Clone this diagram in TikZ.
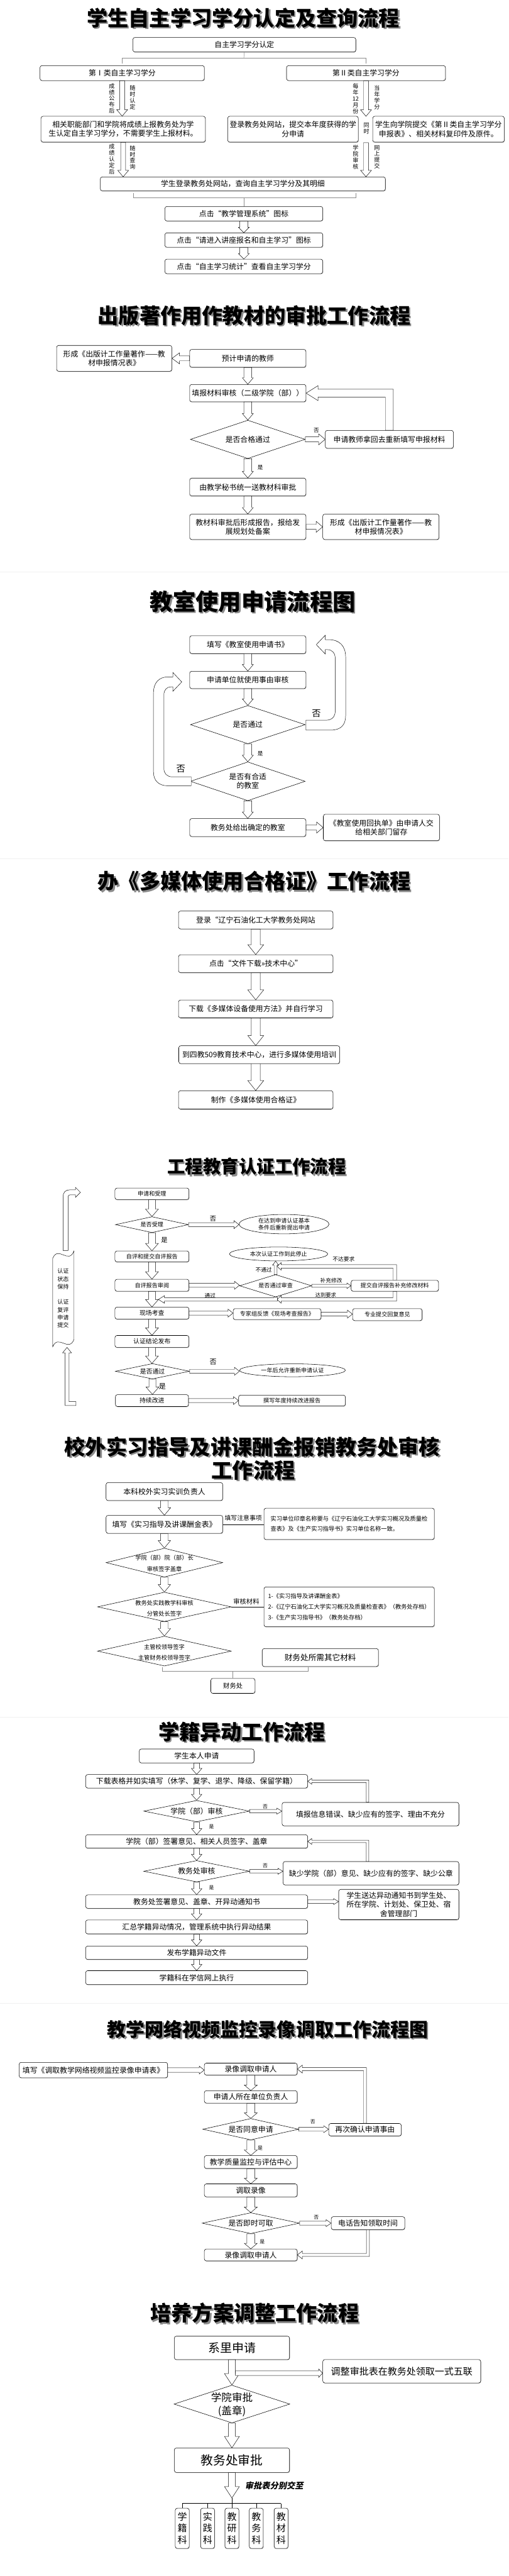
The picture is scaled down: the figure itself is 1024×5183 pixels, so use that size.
\documentclass[tikz,border=0pt]{standalone}
\usepackage{fontspec}
\setmainfont{Noto Sans CJK SC}
\newfontfamily\tfont{Noto Sans CJK SC}
\usetikzlibrary{shapes.geometric,shadows,calc}
\newcommand\ArrD[5]{\draw[blk] let \p1=#4, \p2=#5 in (\x1-#1pt,\y1) -- (\x1-#1pt,\y2+#3pt) -- (\x1-#2pt,\y2+#3pt) -- (\x1,\y2) -- (\x1+#2pt,\y2+#3pt) -- (\x1+#1pt,\y2+#3pt) -- (\x1+#1pt,\y1) -- cycle;}
\newcommand\ArrU[5]{\draw[blk] let \p1=#4, \p2=#5 in (\x1-#1pt,\y1) -- (\x1-#1pt,\y2-#3pt) -- (\x1-#2pt,\y2-#3pt) -- (\x1,\y2) -- (\x1+#2pt,\y2-#3pt) -- (\x1+#1pt,\y2-#3pt) -- (\x1+#1pt,\y1) -- cycle;}
\newcommand\ArrR[5]{\draw[blk] let \p1=#4, \p2=#5 in (\x1,\y1+#1pt) -- (\x2-#3pt,\y1+#1pt) -- (\x2-#3pt,\y1+#2pt) -- (\x2,\y1) -- (\x2-#3pt,\y1-#2pt) -- (\x2-#3pt,\y1-#1pt) -- (\x1,\y1-#1pt) -- cycle;}
\newcommand\ArrL[5]{\draw[blk] let \p1=#4, \p2=#5 in (\x1,\y1+#1pt) -- (\x2+#3pt,\y1+#1pt) -- (\x2+#3pt,\y1+#2pt) -- (\x2,\y1) -- (\x2+#3pt,\y1-#2pt) -- (\x2+#3pt,\y1-#1pt) -- (\x1,\y1-#1pt) -- cycle;}
\newcommand\ArrUL[5]{\draw[blk] let \p1=#4, \p2=#5 in (\x1-#1pt,\y1) -- (\x1-#1pt,\y2-#1pt) -- (\x2+#3pt,\y2-#1pt) -- (\x2+#3pt,\y2-#2pt) -- (\x2,\y2) -- (\x2+#3pt,\y2+#2pt) -- (\x2+#3pt,\y2+#1pt) -- (\x1+#1pt,\y2+#1pt) -- (\x1+#1pt,\y1) -- cycle;}
\newcommand\ArrDL[5]{\draw[blk] let \p1=#4, \p2=#5 in (\x1-#1pt,\y1) -- (\x1-#1pt,\y2+#1pt) -- (\x2+#3pt,\y2+#1pt) -- (\x2+#3pt,\y2+#2pt) -- (\x2,\y2) -- (\x2+#3pt,\y2-#2pt) -- (\x2+#3pt,\y2-#1pt) -- (\x1+#1pt,\y2-#1pt) -- (\x1+#1pt,\y1) -- cycle;}
\newcommand\Ttl[5]{\node[ttl={#4},text=black!45] (#1s) at (#2+3,#3+3) {#5};\node[ttl={#4}] (#1) at (#2,#3) {#5};}
\tikzset{
 bx/.style 2 args={draw, rounded corners=4pt, fill=white, line width=0.7pt, minimum width=#1pt, minimum height=#2pt, inner sep=1pt, align=center, font=\fontsize{15}{18}\selectfont, drop shadow={shadow xshift=0.8pt, shadow yshift=-1.2pt, opacity=0.45}},
 dia/.style 2 args={draw, diamond, fill=white, line width=0.7pt, minimum width=#1pt, minimum height=#2pt, inner sep=0pt},
 ell/.style 2 args={draw, ellipse, fill=white, line width=0.7pt, minimum width=#1pt, minimum height=#2pt, inner sep=0pt, align=center, font=\fontsize{11.5}{14}\selectfont},
 dt/.style={inner sep=0pt, align=center, font=\fontsize{15}{18}\selectfont},
 blk/.style={draw, fill=white, line width=0.6pt, line join=miter},
 gl/.style={draw=black!45, line width=0.6pt},
 lab/.style={inner sep=0pt, align=center, font=\fontsize{11}{12}\selectfont},
 vl/.style={inner sep=0pt, align=center, font=\fontsize{11.5}{12.5}\selectfont},
 ttl/.style={inner sep=0pt, font=\tfont\bfseries\fontsize{#1}{#1}\selectfont},
 sm/.style={font=\fontsize{11.5}{14}\selectfont},
 sep/.style={draw=black!6, line width=0.6pt}
}
\begin{document}
\begin{tikzpicture}[x=1pt,y=-1pt]
\fill[white] (0,0) rectangle (1024,5183);
\useasboundingbox (0,0) rectangle (1024,5183);
\draw[sep] (0,1151) -- (1024,1151);
\draw[sep] (0,1727) -- (1024,1727);
\draw[sep] (0,3455) -- (1024,3455);
\draw[sep] (0,4031) -- (1024,4031);

% ===== Section 1 =====
\Ttl{t1}{490}{36}{42}{学生自主学习学分认定及查询流程}
\node[bx={449}{29}] (A) at (492,90) {自主学习学分认定};
\node[bx={331}{30}] (B) at (246,147) {第Ⅰ类自主学习学分};
\node[bx={320}{30}] (C) at (737,147) {第Ⅱ类自主学习学分};
\draw[gl] (A.south) -- (491,117);
\draw[gl] (246,128) -- (246,117) -- (737,117) -- (737,128);
\node[bx={331}{52}] (D) at (248,260) {相关职能部门和学院将成绩上报教务处为学\\生认定自主学习学分，不需要学生上报材料。};
\node[bx={263}{52}] (E) at (590,260) {登录教务处网站，提交本年度获得的学\\分申请};
\node[bx={265}{52}] (F) at (883,260) {学生向学院提交《第Ⅱ类自主学习学分\\申报表》、相关材料复印件及原件。};
\coordinate (g1) at (737,234);
\coordinate (g2) at (737,287);
\node[bx={574}{28}] (G) at (489,370) {学生登录教务处网站，查询自主学习学分及其明细};
\ArrD{5}{11}{13}{(B.south)}{(D.north)}
\ArrD{5}{11}{13}{(C.south)}{(g1)}
\ArrD{5}{11}{13}{(D.south)}{(G.north)}
\ArrD{5}{11}{13}{(g2)}{(G.north)}
\node[vl] (l1a) at (225,198) {成\\绩\\公\\布\\后};
\node[vl] (l1b) at (267,196) {随\\时\\认\\定};
\node[vl] (l1c) at (716,199) {每\\年\\12\\月\\份};
\node[vl] (l1d) at (759,196) {当\\年\\学\\分};
\node[vl] (l1e) at (738,258) {同\\时};
\node[vl] (l1f) at (225,320) {成\\绩\\认\\定\\后};
\node[vl] (l1g) at (267,317) {随\\时\\查\\询};
\node[vl] (l1h) at (716,316) {学\\院\\审\\核};
\node[vl] (l1i) at (759,316) {网\\上\\提\\交};
\node[bx={318}{29}] (H) at (491,430) {点击“教学管理系统”图标};
\node[bx={318}{29}] (I) at (491,483) {点击“请进入讲座报名和自主学习”图标};
\node[bx={318}{29}] (J) at (491,536) {点击“自主学习统计”查看自主学习学分};
\draw[gl] (268,388) -- (268,398) -- (716,398) -- (716,388);
\draw[gl] (491,398) -- (H.north);
\ArrD{8}{11}{11}{(H.south)}{(I.north)}
\ArrD{8}{11}{11}{(I.south)}{(J.north)}

% ===== Section 2 =====
\Ttl{t2}{512}{635}{42}{出版著作用作教材的审批工作流程}
\node[bx={232}{52}] (P0) at (230,721) {形成《出版计工作量著作——教\\材申报情况表》};
\node[bx={234}{36}] (P1) at (499,721) {预计申请的教师};
\node[bx={234}{35}] (P2) at (499,791) {填报材料审核（二级学院（部））};
\node[dia={231}{77}] (P3) at (499,884) {};
\node[dt] (P3t) at (P3) {是否合格通过};
\node[bx={258}{36}] (P4) at (784,884) {申请教师拿回去重新填写申报材料};
\node[bx={234}{36}] (P5) at (499,980) {由教学秘书统一送教材科审批};
\node[bx={234}{51}] (P6) at (499,1060) {教材科审批后形成报告，报给发\\展规划处备案};
\node[bx={234}{51}] (P7) at (767,1060) {形成《出版计工作量著作——教\\材申报情况表》};
\ArrL{5}{11}{15}{(P1.west)}{(P0.east)}
\ArrD{8}{11}{13}{(P1.south)}{(P2.north)}
\ArrD{8}{11}{13}{(P2.south)}{(P3.north)}
\ArrR{5}{11}{13}{(P3.east)}{(P4.west)}
\ArrUL{8}{15}{24}{(P4.north)}{(P2.east)}
\ArrD{8}{11}{13}{(P3.south)}{(P5.north)}
\ArrD{8}{11}{13}{(P5.south)}{(P6.north)}
\ArrR{5}{11}{13}{(P6.east)}{(P7.west)}
\node[lab] (P3n) at (637,866) {否};
\node[lab] (P3y) at (524,941) {是};

% ===== Section 3 =====
\Ttl{t3}{509}{1210}{46}{教室使用申请流程图}
\node[bx={234}{36}] (Q1) at (499,1297) {填写《教室使用申请书》};
\node[bx={234}{35}] (Q2) at (499,1368) {申请单位就使用事由审核};
\node[dia={231}{77}] (Q3) at (499,1458) {};
\node[dt] (Q3t) at (Q3) {是否通过};
\node[dia={231}{78}] (Q4) at (499,1572) {};
\node[dt] (Q4t) at (Q4) {是否有合适\\的教室};
\node[bx={234}{36}] (Q5) at (499,1665) {教务处给出确定的教室};
\node[bx={234}{53}] (Q6) at (768,1665) {《教室使用回执单》由申请人交\\给相关部门留存};
\ArrD{8}{11}{13}{(Q1.south)}{(Q2.north)}
\ArrD{8}{11}{13}{(Q2.south)}{(Q3.north)}
\ArrD{8}{11}{13}{(Q3.south)}{(Q4.north)}
\ArrD{8}{11}{13}{(Q4.south)}{(Q5.north)}
\ArrR{5}{11}{13}{(Q5.east)}{(Q6.west)}
\draw[blk] (616,1449) -- (657,1449) .. controls (668,1449) and (675,1442) .. (675,1431) -- (675,1325) .. controls (675,1314) and (669,1307) .. (659,1307) -- (655,1307) -- (655,1316) -- (637,1297) -- (655,1278) -- (655,1287) -- (662,1287) .. controls (684,1287) and (696,1300) .. (696,1322) -- (696,1440) .. controls (696,1459) and (686,1469) .. (666,1469) -- (616,1469) -- cycle;
\draw[blk] (385,1563) -- (347,1563) .. controls (336,1563) and (330,1556) .. (330,1546) -- (330,1398) .. controls (330,1388) and (336,1382) .. (344,1382) -- (348,1382) -- (348,1391) -- (366,1372) -- (348,1353) -- (348,1362) -- (338,1362) .. controls (320,1362) and (309,1374) .. (309,1394) -- (309,1553) .. controls (309,1571) and (320,1581) .. (338,1581) -- (385,1581) -- cycle;
\node[lab,font=\fontsize{18}{18}\selectfont] (Q3n) at (637,1436) {否};
\node[lab,font=\fontsize{18}{18}\selectfont] (Q4n) at (364,1547) {否};
\node[lab] (Q3y) at (524,1517) {是};

% ===== Section 4 =====
\Ttl{t4}{512}{1773}{42}{办《多媒体使用合格证》工作流程}
\node[bx={311}{36}] (R1) at (515,1851) {登录“辽宁石油化工大学教务处网站};
\node[bx={311}{36}] (R2) at (515,1939) {点击“文件下载>>技术中心”};
\node[bx={311}{36}] (R3) at (515,2030) {下载《多媒体设备使用方法》并自行学习};
\node[bx={324}{36}] (R4) at (522,2122) {到四教509教育技术中心，进行多媒体使用培训};
\node[bx={311}{37}] (R5) at (515,2213) {制作《多媒体使用合格证》};
\ArrD{9}{16}{20}{(R1.south)}{(R2.north)}
\ArrD{9}{16}{20}{(R2.south)}{(R3.north)}
\ArrD{9}{16}{20}{(R3.south)}{(R4.north)}
\ArrD{9}{16}{20}{(R5.north |- R4.south)}{(R5.north)}

% ===== Section 5 =====
\Ttl{t5}{517}{2347}{36}{工程教育认证工作流程}
\node[bx={149}{23},sm] (S1) at (306,2402) {申请和受理};
\node[dia={147}{32}] (S2) at (306,2464) {};
\node[dt,sm] (S2t) at (S2) {是否受理};
\node[ell={181}{39}] (S3) at (572,2463) {在达到申请认证基本\\条件后重新提出申请};
\node[bx={149}{22},sm] (S4) at (306,2528) {自评和提交自评报告};
\node[bx={149}{24},sm] (S5) at (306,2586) {自评报告审阅};
\node[dia={145}{45}] (S6) at (555,2587) {};
\node[dt,sm] (S6t) at (S6) {是否通过审查};
\node[ell={198}{28}] (S7) at (561,2523) {本次认证工作到此停止};
\node[bx={176}{22},sm] (S8) at (795,2587) {提交自评报告补充修改材料};
\node[bx={149}{24},font=\fontsize{12.5}{14}\selectfont] (S9) at (306,2642) {现场考查};
\node[bx={177}{22},sm] (S10) at (558,2644) {专家组反馈《现场考查报告》};
\node[bx={140}{24},sm] (S11) at (780,2645) {专业提交回复意见};
\node[bx={149}{24},font=\fontsize{12.5}{14}\selectfont] (S12) at (306,2699) {认证结论发布};
\node[dia={149}{31}] (S13) at (307,2759) {};
\node[dt,font=\fontsize{12.5}{14}\selectfont] (S13t) at (S13) {是否通过};
\node[ell={213}{26}] (S14) at (589,2757) {一年后允许重新申请认证};
\node[bx={147}{24},font=\fontsize{12.5}{14}\selectfont] (S15) at (306,2818) {持续改进};
\node[bx={215}{22},sm] (S16) at (588,2818) {撰写年度持续改进报告};
\coordinate (c1) at (558,2548);
\coordinate (c2) at (558,2614.5);
\coordinate (c3) at (319,2614.5);
\ArrD{7}{13}{15}{(S1.south)}{(S2.north)}
\ArrD{7}{13}{15}{(S2.south)}{(S4.north)}
\ArrD{7}{13}{15}{(S4.south)}{(S5.north)}
\ArrD{7}{13}{15}{(S5.south)}{(S9.north)}
\ArrD{7}{13}{15}{(S9.south)}{(S12.north)}
\ArrD{7}{13}{15}{(S12.south)}{(S13.north)}
\ArrD{7}{13}{15}{(S13.south)}{(S15.north)}
\ArrR{4}{8}{10}{(S2.east)}{(S3.west)}
\ArrR{4}{8}{10}{(S5.east)}{(S6.west)}
\ArrR{4}{8}{10}{(S9.east)}{(S10.west)}
\ArrR{4}{8}{10}{(S10.east)}{(S11.west)}
\ArrR{4}{8}{10}{(S13.east)}{(S14.west)}
\ArrR{4}{8}{10}{(S15.east)}{(S16.west)}
\ArrR{3}{5.5}{8}{(S6.east)}{(S8.west)}
\ArrU{3}{6}{8}{(S6.north)}{(S7.south)}
\ArrUL{3.5}{7.5}{8}{(S8.north)}{(c1)}
\ArrDL{3.5}{7.5}{8}{(S8.south)}{(c2)}
\ArrDL{3.5}{7.5}{12}{(S6.south)}{(c3)}
\node[lab,font=\fontsize{13}{13}\selectfont] (S2n) at (429,2452) {否};
\node[lab,font=\fontsize{13}{13}\selectfont] (S2y) at (331,2495) {是};
\node[lab] (S6u) at (531,2555) {不通过};
\node[lab] (S6r) at (667,2577) {补充修改};
\node[lab] (S8u) at (692,2533) {不达要求};
\node[lab,font=\fontsize{10.5}{11}\selectfont] (S8d) at (656,2606) {达到要求};
\node[lab] (S6d) at (423,2607) {通过};
\node[lab,font=\fontsize{14}{14}\selectfont] (S13n) at (429,2740) {否};
\node[lab,font=\fontsize{14}{14}\selectfont] (S13y) at (327,2790) {是};
% left loop
\draw[blk] (153,2828) -- (131,2828) -- (131,2722) -- (126,2722) -- (135,2711) -- (144,2722) -- (139,2722) -- (139,2820) -- (153,2820) -- cycle;
\draw[blk] (127,2516) -- (127,2408) .. controls (127,2399) and (132,2394) .. (140,2394) -- (152,2394) -- (152,2389) -- (162,2399) -- (152,2409) -- (152,2404) -- (141,2404) .. controls (138,2404) and (137,2406) .. (137,2409) -- (137,2516) -- cycle;
\draw[blk] (106,2532) .. controls (117,2505) and (138,2545) .. (149,2517) -- (149,2695) .. controls (138,2722) and (117,2683) .. (106,2710) -- cycle;
\node[inner sep=0pt, align=center, font=\fontsize{11.5}{15.5}\selectfont] (ban) at (127,2612) {认证\\状态\\保持\\[15.5pt]认证\\复评\\申请\\提交};

% ===== Section 6 =====
\Ttl{t6a}{508}{2911}{42}{校外实习指导及讲课酬金报销教务处审核}
\Ttl{t6b}{510}{2958}{42}{工作流程}
\node[bx={235}{36}] (T1) at (331,3001) {本科校外实习实训负责人};
\node[bx={235}{36}] (T2) at (331,3067) {填写《实习指导及讲课酬金表》};
\node[bx={343}{63},align=left,font=\fontsize{11.7}{20}\selectfont] (T3) at (703,3066) {实习单位印章名称要与《辽宁石油化工大学实习概况及质量检\\查表》及《生产实习指导书》实习单位名称一致。};
\draw[line width=0.6pt] (T2.east) -- (T2.east -| T3.west);
\node[lab,font=\fontsize{12.5}{13}\selectfont] (T2l) at (490,3054) {填写注意事项};
\node[dia={235}{58}] (T4) at (331,3144) {};
\node[dt,font=\fontsize{11.7}{23}\selectfont] (T4t) at (331,3146) {学院（部）院（部）长\\审核签字盖章};
\node[dia={269}{59}] (T5) at (331,3233) {};
\node[dt,font=\fontsize{11.7}{21}\selectfont] (T5t) at (331,3236) {教务处实践教学科审核\\分管处长签字};
\node[bx={343}{80},align=left,font=\fontsize{11.7}{21}\selectfont] (T6) at (703,3233) {1-《实习指导及讲课酬金表》\\2-《辽宁石油化工大学实习概况及质量检查表》（教务处存档）\\3-《生产实习指导书》（教务处存档）};
\draw[line width=0.6pt] (T5.east) -- (T6.west);
\node[lab,font=\fontsize{13}{13}\selectfont] (T5l) at (496,3222) {审核材料};
\node[dia={269}{60}] (T7) at (331,3322) {};
\node[dt,font=\fontsize{11.7}{22}\selectfont] (T7t) at (331,3325) {主管校领导签字\\主管财务校领导签字};
\node[bx={234}{36},font=\fontsize{16}{18}\selectfont] (T8) at (645,3335) {财务处所需其它材料};
\node[bx={89}{30},font=\fontsize{13}{15}\selectfont] (T9) at (469,3392) {财务处};
\draw[gl] (327,3354) -- (327,3362) -- (620,3362) -- (620,3355);
\draw[gl] (469,3362) -- (T9.north);
\ArrD{7.5}{12.5}{15}{(T1.south)}{(T2.north)}
\ArrD{7.5}{12.5}{15}{(T2.south)}{(T4.north)}
\ArrD{7.5}{12.5}{15}{(T4.south)}{(T5.north)}
\ArrD{7.5}{12.5}{15}{(T5.south)}{(T7.north)}

% ===== Section 7 =====
\Ttl{t7}{487}{3484}{42}{学籍异动工作流程}
\node[bx={231}{28}] (U1) at (396,3533) {学生本人申请};
\node[bx={447}{27}] (U2) at (396,3584) {下载表格并如实填写（休学、复学、退学、降级、保留学籍）};
\node[dia={213}{43}] (U3) at (396,3644) {};
\node[dt] (U3t) at (U3) {学院（部）审核};
\node[bx={356}{47}] (U4) at (746,3650) {填报信息错误、缺少应有的签字、理由不充分};
\node[bx={447}{27}] (U5) at (396,3705) {学院（部）签署意见、相关人员签字、盖章};
\node[dia={213}{43}] (U6) at (396,3765) {};
\node[dt] (U6t) at (U6) {教务处审核};
\node[bx={354}{47}] (U7) at (747,3769) {缺少学院（部）意见、缺少应有的签字、缺少公章};
\node[bx={447}{27}] (U8) at (396,3826) {教务处签署意见、盖章、开异动通知书};
\node[bx={242}{61}] (U9) at (803,3832) {学生送达异动通知书到学生处、\\所在学院、计划处、保卫处、宿\\舍管理部门};
\node[bx={447}{28}] (U10) at (396,3877) {汇总学籍异动情况，管理系统中执行异动结果};
\node[bx={447}{27}] (U11) at (396,3929) {发布学籍异动文件};
\node[bx={447}{28}] (U12) at (396,3979) {学籍科在学信网上执行};
\ArrD{5.5}{10.5}{12}{(U1.south)}{(U2.north)}
\ArrD{5.5}{10.5}{12}{(U2.south)}{(U3.north)}
\ArrD{5.5}{10.5}{12}{(U3.south)}{(U5.north)}
\ArrD{5.5}{10.5}{12}{(U5.south)}{(U6.north)}
\ArrD{5.5}{10.5}{12}{(U6.south)}{(U8.north)}
\ArrD{5.5}{10.5}{12}{(U8.south)}{(U10.north)}
\ArrD{5.5}{10.5}{12}{(U10.south)}{(U11.north)}
\ArrD{5.5}{10.5}{12}{(U11.south)}{(U12.north)}
\ArrR{3.5}{6}{10}{(U3.east)}{(U4.west)}
\ArrR{3.5}{6}{10}{(U6.east)}{(U7.west)}
\ArrR{3.5}{6}{10}{(U8.east)}{(U9.west)}
\ArrUL{2.5}{6}{8}{([xshift=-6pt]U4.north)}{(U2.east)}
\ArrUL{2.5}{6}{8}{([xshift=-7pt]U7.north)}{(U5.east)}
\node[lab,font=\fontsize{10}{10}\selectfont] (U3n) at (534,3635) {否};
\node[lab,font=\fontsize{10}{10}\selectfont] (U6n) at (534,3754) {否};
\node[lab,font=\fontsize{10}{10}\selectfont] (U3y) at (426,3675) {是};
\node[lab,font=\fontsize{10}{10}\selectfont] (U6y) at (426,3798) {是};

% ===== Section 8 =====
\Ttl{t8}{539}{4083}{38}{教学网络视频监控录像调取工作流程图}
\node[bx={299}{31}] (V0) at (188,4165) {填写《调取教学网络视频监控录像申请表》};
\node[bx={187}{24}] (V1) at (505,4163) {录像调取申请人};
\node[bx={187}{25}] (V2) at (505,4219) {申请人所在单位负责人};
\node[dia={193}{43}] (V3) at (505,4284) {};
\node[dt] (V3t) at (V3) {是否同意申请};
\node[bx={146}{25}] (V4) at (735,4285) {再次确认申请事由};
\node[bx={187}{26}] (V5) at (505,4350) {教学质量监控与评估中心};
\node[bx={187}{26}] (V6) at (505,4407) {调取录像};
\node[dia={196}{42}] (V7) at (505,4473) {};
\node[dt] (V7t) at (V7) {是否即时可取};
\node[bx={148}{26}] (V8) at (741,4473) {电话告知领取时间};
\node[bx={187}{24}] (V9) at (505,4537) {录像调取申请人};
\ArrR{4.5}{8}{10}{(V0.east)}{(V1.west)}
\ArrD{8}{13}{11}{(V1.south)}{(V2.north)}
\ArrD{8}{13}{11}{(V2.south)}{(V3.north)}
\ArrD{8}{13}{11}{(V3.south)}{(V5.north)}
\ArrD{8}{13}{11}{(V5.south)}{(V6.north)}
\ArrD{8}{13}{11}{(V6.south)}{(V7.north)}
\ArrD{8}{13}{11}{(V7.south)}{(V9.north)}
\ArrR{4}{7}{10}{(V3.east)}{(V4.west)}
\ArrR{4}{7}{10}{(V7.east)}{(V8.west)}
\ArrUL{3}{8}{10}{(V4.north)}{(V1.east)}
\ArrDL{3}{8}{10}{(V8.south)}{(V9.east)}
\node[lab,font=\fontsize{10}{10}\selectfont] (V3n) at (630,4269) {否};
\node[lab,font=\fontsize{10}{10}\selectfont] (V7n) at (637,4461) {否};
\node[lab,font=\fontsize{10}{10}\selectfont] (V3y) at (524,4322) {是};
\node[lab,font=\fontsize{10}{10}\selectfont] (V7y) at (528,4511) {是};

% ===== Section 9 =====
\Ttl{t9}{513}{4654}{42}{培养方案调整工作流程}
\node[bx={232}{47},font=\fontsize{24}{26}\selectfont] (W1) at (467,4724) {系里申请};
\node[bx={318}{47},font=\fontsize{19}{21}\selectfont] (W2) at (809,4771) {调整审批表在教务处领取一式五联};
\node[dia={233}{76}] (W3) at (467,4837) {};
\node[dt,font=\fontsize{21}{27}\selectfont] (W3t) at (467,4838) {学院审批\\(盖章)};
\node[bx={232}{49},font=\fontsize{25}{27}\selectfont] (W4) at (467,4950) {教务处审批};
\coordinate (wb) at (467,5026);
\ArrD{7}{15}{23}{(W1.south)}{(W3.north)}
\ArrR{4.5}{8.5}{8}{([xshift=7pt,yshift=-27pt]W1.south)}{(W2.west)}
\ArrD{7}{15}{23}{(W3.south)}{(W4.north)}
\ArrD{7}{15}{23}{(W4.south)}{(wb)}
\node[inner sep=0pt,font={\fontsize{16.8}{18}\selectfont\bfseries\addfontfeature{FakeSlant=0.2}}] (W4l) at (552,5001) {审批表分别交至};
\foreach \nm/\xx/\tx in {K1/367/学\\籍\\科, K2/418/实\\践\\科, K3/467/教\\研\\科, K4/516/教\\务\\科, K5/566/教\\材\\科}{
  \node[bx={28}{81},font=\fontsize{19}{23}\selectfont,inner sep=0pt] (\nm) at (\xx,5087) {\tx};
  \draw[line width=0.6pt] (\xx,5037) -- (\nm.north);
}
\draw[line width=0.6pt] (367,5037) -- (566,5037);
\draw[line width=0.6pt] (wb) -- (467,5037);
\end{tikzpicture}
\end{document}
